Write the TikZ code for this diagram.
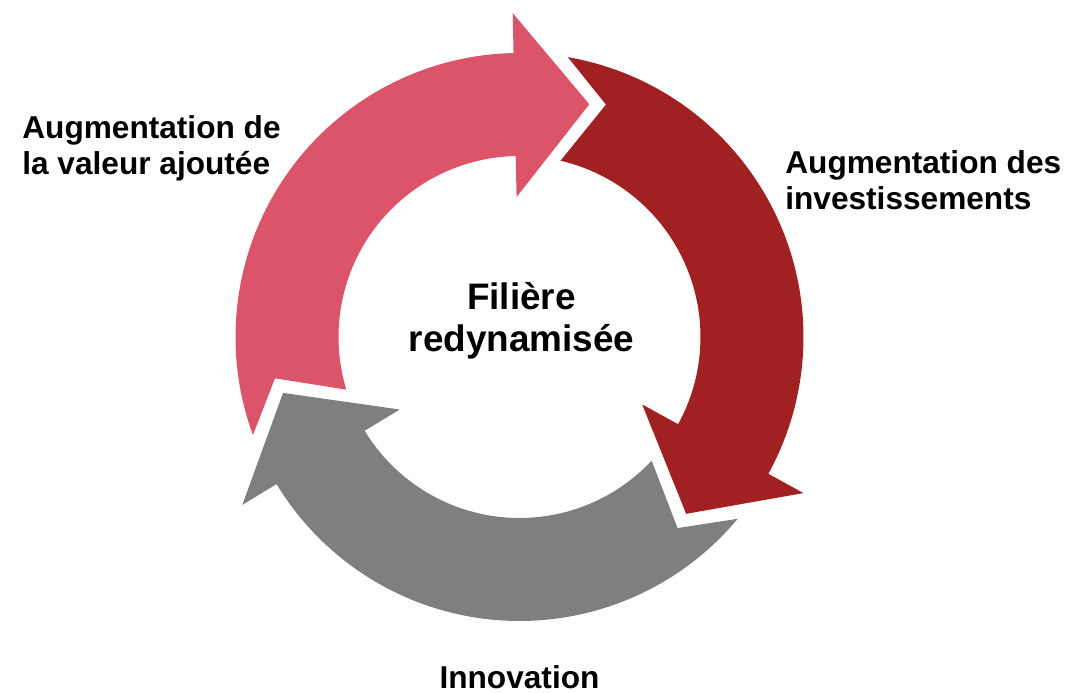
\documentclass[tikz,border=0pt]{standalone}
\usepackage{fontspec}
\setmainfont{Liberation Sans}
\usepackage{tikz}
\definecolor{cyclepink}{RGB}{220,84,106}
\definecolor{cyclered}{RGB}{161,32,34}
\definecolor{cyclegrey}{RGB}{127,127,127}
\tikzset{
  sidelabel/.style={font=\bfseries\fontsize{18}{21}\selectfont, align=left, inner sep=0pt},
  hublabel/.style={font=\bfseries\fontsize{21}{24}\selectfont, align=center, inner sep=0pt}
}

\begin{document}
\begin{tikzpicture}[x=0.02cm,y=0.02cm]
  \useasboundingbox (-519.5,-356) rectangle (546.5,337);

  % the three arrows of the cycle, turned by 120 degrees each
  \foreach \col [count=\i from 0] in {cyclepink,cyclered,cyclegrey} {
    \begin{scope}[rotate=-120*\i]
      \fill[\col] (200.2:284) arc[start angle=200.2, end angle=91.2, radius=284]
        -- (91.2:324) -- (73.3:243) -- (91.2:140) -- (91.2:181)
        arc[start angle=91.2, end angle=196.9, radius=181]
        -- (189.6:248) -- cycle;
    \end{scope}
  }

  % base anchor = baseline of the last line
  \node[hublabel, anchor=base] (hub) at (2,-15) {Filière\\redynamisée};
  \node[sidelabel, anchor=base west] (valeur) at (-497.5,162) {Augmentation de\\la valeur ajoutée};
  \node[sidelabel, anchor=base west] (invest) at (265.5,127) {Augmentation des\\investissements};
  \node[sidelabel, anchor=base] (innov) at (0,-351) {Innovation};
\end{tikzpicture}
\end{document}
